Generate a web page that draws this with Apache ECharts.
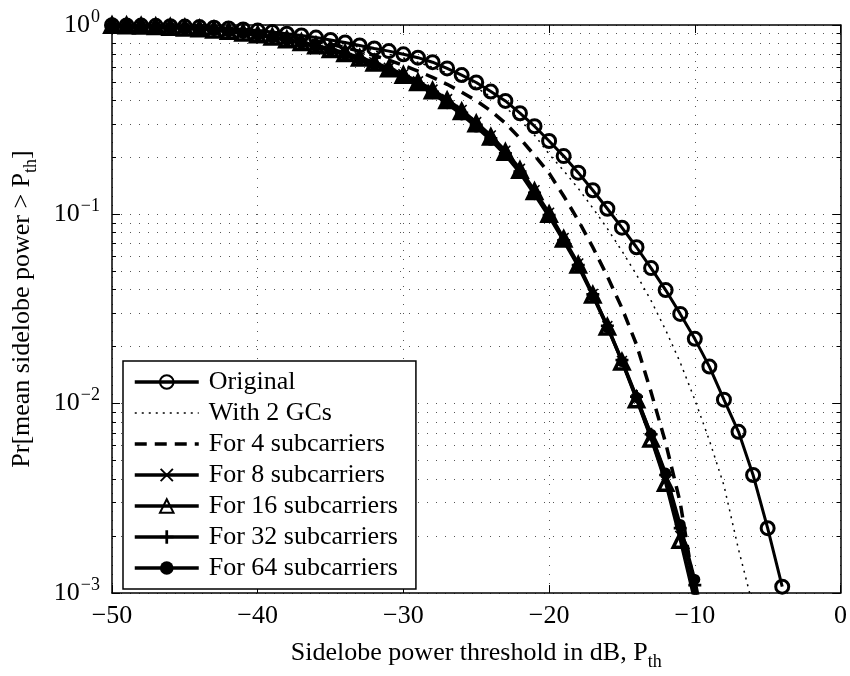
<!DOCTYPE html>
<html>
<head>
<meta charset="utf-8">
<script src="https://cdn.jsdelivr.net/npm/echarts@6/dist/echarts.min.js"></script>
<style>
html,body{margin:0;padding:0;background:#fff;}
#chart{width:850px;height:676px;}
</style>
</head>
<body>
<div id="chart"></div>
<script>
// Sidelobe power threshold (dB), one point per dB
var thresholds = [-50,-49,-48,-47,-46,-45,-44,-43,-42,-41,-40,-39,-38,-37,-36,-35,-34,-33,-32,-31,-30,-29,-28,-27,-26,-25,-24,-23,-22,-21,-20,-19,-18,-17,-16,-15,-14,-13,-12,-11,-10,-9,-8,-7,-6,-5,-4];

var seriesNames = ['Original','With 2 GCs','For 4 subcarriers','For 8 subcarriers','For 16 subcarriers','For 32 subcarriers','For 64 subcarriers'];

var original = [0.997,0.995,0.993,0.99,0.986,0.981,0.975,0.967,0.958,0.947,
  0.934,0.918,0.9,0.88,0.858,0.834,0.808,0.78,0.752,0.728,
  0.7,0.672,0.636,0.59,0.544,0.497,0.445,0.397,0.342,0.292,
  0.244,0.203,0.166,0.134,0.107,0.085,0.067,0.052,0.0398,0.0298,
  0.022,0.0157,0.0105,0.0071,0.0042,0.0022,0.00108];

var with2GCs = [0.997,0.995,0.992,0.989,0.985,0.98,0.973,0.965,0.955,0.943,
  0.929,0.912,0.893,0.871,0.847,0.821,0.793,0.763,0.731,0.7,
  0.67,0.635,0.598,0.558,0.514,0.467,0.418,0.367,0.315,0.262,
  0.208,0.17,0.137,0.108,0.084,0.064,0.048,0.035,0.0245,0.0165,
  0.0105,0.0064,0.0037,0.0017,0.00085];

var sub4 = [0.997,0.994,0.991,0.987,0.982,0.976,0.968,0.958,0.946,0.932,
  0.915,0.896,0.874,0.849,0.822,0.792,0.76,0.726,0.69,0.652,
  0.612,0.571,0.529,0.486,0.442,0.398,0.352,0.303,0.252,0.205,
  0.165,0.125,0.093,0.067,0.047,0.032,0.0205,0.0115,0.0062,0.003,
  0.00102,0.0004];

var sub8 = [0.996,0.992,0.988,0.982,0.975,0.966,0.956,0.943,0.928,0.911,
  0.891,0.868,0.842,0.814,0.783,0.75,0.714,0.676,0.636,0.594,
  0.55,0.504,0.456,0.406,0.356,0.307,0.261,0.217,0.174,0.134,
  0.102,0.075,0.055,0.038,0.0257,0.0168,0.0106,0.0066,0.0039,0.002,
  0.00095,0.0004];

var sub16 = [0.996,0.992,0.987,0.981,0.974,0.965,0.954,0.941,0.926,0.908,
  0.887,0.863,0.837,0.808,0.777,0.743,0.707,0.669,0.629,0.587,
  0.543,0.497,0.449,0.399,0.349,0.301,0.256,0.213,0.171,0.132,
  0.1,0.074,0.054,0.0375,0.0254,0.0166,0.0105,0.0065,0.0038,0.0019,
  0.0009,0.0004];

var sub32 = [0.996,0.992,0.987,0.98,0.973,0.964,0.953,0.94,0.924,0.906,
  0.885,0.861,0.834,0.805,0.773,0.739,0.703,0.664,0.624,0.582,
  0.538,0.492,0.444,0.394,0.344,0.297,0.252,0.21,0.168,0.13,
  0.099,0.073,0.054,0.0378,0.0258,0.017,0.0109,0.0069,0.0042,0.0022,
  0.0011,0.0005];

var sub64 = [0.996,0.991,0.986,0.979,0.971,0.962,0.951,0.937,0.921,0.903,
  0.881,0.856,0.829,0.799,0.767,0.732,0.695,0.656,0.615,0.573,
  0.528,0.482,0.434,0.384,0.335,0.289,0.246,0.205,0.165,0.127,
  0.097,0.072,0.053,0.037,0.0252,0.0167,0.0108,0.0069,0.0043,0.0023,
  0.00118,0.0005];

var xTicks = [-50,-40,-30,-20,-10,0];

function pairs(vals){
  var out = [];
  for (var i = 0; i < vals.length; i++) out.push([thresholds[i], vals[i]]);
  return out;
}

var FONT = 'Liberation Serif';
var xPath = 'path://M2,0 L10,8 L18,0 L20,2 L12,10 L20,18 L18,20 L10,12 L2,20 L0,18 L8,10 L0,2 Z';
var plusPath = 'path://M8,0 L12,0 L12,8 L20,8 L20,12 L12,12 L12,20 L8,20 L8,12 L0,12 L0,8 L8,8 Z';

function mk(name, vals, opts){
  var s = {
    name: name,
    type: 'line',
    data: pairs(vals),
    showSymbol: true,
    showAllSymbol: true,
    clip: true,
    animation: false,
    symbol: 'none',
    lineStyle: {color: '#000', width: 3, type: 'solid'},
    itemStyle: {color: '#000', borderColor: '#000', borderWidth: 0}
  };
  for (var k in opts) s[k] = opts[k];
  return s;
}

var hollow = {color: 'rgba(255,255,255,0)', borderColor: '#000', borderWidth: 3};

var series = [
  mk(seriesNames[0], original, {symbol: 'circle', symbolSize: 13, itemStyle: hollow}),
  mk(seriesNames[1], with2GCs, {symbol: 'none', lineStyle: {color: '#000', width: 1.5, type: [2, 5]}}),
  mk(seriesNames[2], sub4, {symbol: 'none', lineStyle: {color: '#000', width: 3.5, type: [12, 8]}}),
  mk(seriesNames[3], sub8, {symbol: xPath, symbolSize: 11}),
  mk(seriesNames[4], sub16, {symbol: 'triangle', symbolSize: 14,
     itemStyle: {color: 'rgba(255,255,255,0)', borderColor: '#000', borderWidth: 3.5}}),
  mk(seriesNames[5], sub32, {symbol: plusPath, symbolSize: 13}),
  mk(seriesNames[6], sub64, {symbol: 'circle', symbolSize: 11})
];

var noSym = {color: 'rgba(255,255,255,0)', borderColor: 'rgba(255,255,255,0)', borderWidth: 0, opacity: 0};
var legendData = [
  {name: seriesNames[0], lineStyle: {width: 3.5}},
  {name: seriesNames[1], lineStyle: {width: 1.5}, itemStyle: noSym},
  {name: seriesNames[2], lineStyle: {width: 3.5}, itemStyle: noSym},
  {name: seriesNames[3], lineStyle: {width: 3.5}},
  {name: seriesNames[4], lineStyle: {width: 3.5}},
  {name: seriesNames[5], lineStyle: {width: 3.5}},
  {name: seriesNames[6], lineStyle: {width: 3.5}}
];

var gridLine = {show: true, lineStyle: {color: '#555', width: 1, type: [1, 8]}};

var chart = echarts.init(document.getElementById('chart'), null, {renderer: 'canvas'});
chart.setOption({
  backgroundColor: '#fff',
  animation: false,
  grid: {left: 112, right: 9, top: 25, bottom: 77, containLabel: false},
  legend: {
    orient: 'vertical',
    left: 123, top: 361,
    padding: [7, 18, 7, 10],
    itemGap: 3,
    itemWidth: 64,
    itemHeight: 17,
    backgroundColor: '#fff',
    borderColor: '#000',
    borderWidth: 1.5,
    borderRadius: 0,
    data: legendData,
    textStyle: {fontFamily: FONT, fontSize: 26, color: '#000', lineHeight: 28, padding: [0, 0, 0, 5]}
  },
  xAxis: [{
    type: 'value', min: xTicks[0], max: xTicks[xTicks.length - 1], interval: 10,
    position: 'bottom',
    axisLine: {show: true, onZero: false, lineStyle: {color: '#000', width: 1.5}},
    axisTick: {show: true, inside: true, length: 8, lineStyle: {color: '#000', width: 1}},
    splitLine: gridLine,
    axisLabel: {fontFamily: FONT, fontSize: 26, color: '#000', margin: 10,
      formatter: function(v){ return v < 0 ? '\u2212' + Math.abs(v) : String(v); }},
    name: '{a|Sidelobe power threshold in dB, P}{sub|th}',
    nameLocation: 'middle',
    nameGap: 42,
    nameTextStyle: {fontFamily: FONT, color: '#000',
      rich: {a: {fontFamily: FONT, fontSize: 26, color: '#000'},
             sub: {fontFamily: FONT, fontSize: 18, color: '#000', padding: [18, 0, 0, 0]}}}
  }, {
    type: 'value', min: xTicks[0], max: xTicks[xTicks.length - 1], interval: 10,
    position: 'top',
    axisLine: {show: true, onZero: false, lineStyle: {color: '#000', width: 1.5}},
    axisTick: {show: true, inside: true, length: 8, lineStyle: {color: '#000', width: 1}},
    axisLabel: {show: false},
    splitLine: {show: false}
  }],
  yAxis: [{
    type: 'log', logBase: 10, min: 0.001, max: 1,
    position: 'left',
    axisLine: {show: true, onZero: false, lineStyle: {color: '#000', width: 1.5}},
    axisTick: {show: true, inside: true, length: 8, lineStyle: {color: '#000', width: 1}},
    minorTick: {show: true, splitNumber: 9, length: 4, lineStyle: {color: '#000', width: 1}},
    splitLine: gridLine,
    minorSplitLine: gridLine,
    axisLabel: {
      margin: 12, color: '#000',
      formatter: function(v){
        var e = Math.round(Math.log(v) / Math.LN10);
        return '{b|10}{s|' + (e < 0 ? '\u2212' + Math.abs(e) : e) + '}';
      },
      rich: {b: {fontFamily: FONT, fontSize: 26, color: '#000'},
             s: {fontFamily: FONT, fontSize: 18, color: '#000', padding: [0, 0, 16, 1]}}
    },
    name: '{a|Pr[mean sidelobe power > P}{sub|th}{a|]}',
    nameLocation: 'middle',
    nameGap: 72,
    nameRotate: 90,
    nameTextStyle: {fontFamily: FONT, color: '#000',
      rich: {a: {fontFamily: FONT, fontSize: 26, color: '#000'},
             sub: {fontFamily: FONT, fontSize: 18, color: '#000', padding: [18, 0, 0, 0]}}}
  }, {
    type: 'log', logBase: 10, min: 0.001, max: 1,
    position: 'right',
    axisLine: {show: true, onZero: false, lineStyle: {color: '#000', width: 1.5}},
    axisTick: {show: true, inside: true, length: 8, lineStyle: {color: '#000', width: 1}},
    minorTick: {show: true, splitNumber: 9, length: 4, lineStyle: {color: '#000', width: 1}},
    axisLabel: {show: false},
    splitLine: {show: false}
  }],
  series: series
});
</script>
</body>
</html>
